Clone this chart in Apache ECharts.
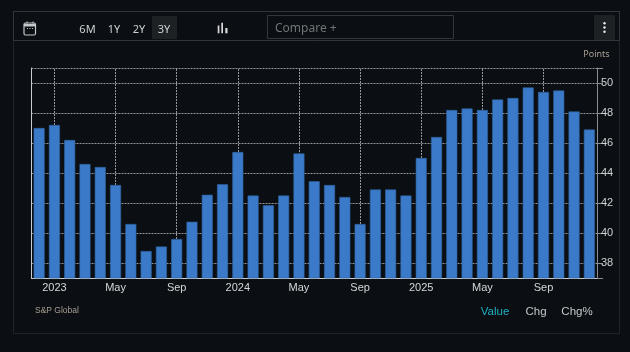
<!DOCTYPE html>
<html><head><meta charset="utf-8">
<style>html,body{margin:0;padding:0;background:#0b0f13}#c{width:630px;height:352px}</style>
<script src="https://cdn.jsdelivr.net/npm/echarts@6/dist/echarts.min.js"></script>
</head><body><div id="c"></div>
<script>
const months=["Dec 2022","Jan 2023","Feb 2023","Mar 2023","Apr 2023","May 2023","Jun 2023","Jul 2023","Aug 2023","Sep 2023","Oct 2023","Nov 2023","Dec 2023",
"Jan 2024","Feb 2024","Mar 2024","Apr 2024","May 2024","Jun 2024","Jul 2024","Aug 2024","Sep 2024","Oct 2024","Nov 2024","Dec 2024",
"Jan 2025","Feb 2025","Mar 2025","Apr 2025","May 2025","Jun 2025","Jul 2025","Aug 2025","Sep 2025","Oct 2025","Nov 2025","Dec 2025"];
const values=[47.0,47.2,46.2,44.6,44.4,43.2,40.6,38.8,39.1,39.6,40.75,42.55,43.25,45.4,42.5,41.85,42.5,45.3,43.45,43.2,42.4,40.6,42.9,42.9,42.5,45.0,46.4,48.2,48.3,48.2,48.9,49.0,49.7,49.4,49.5,48.1,46.9];
const xTicks={"Jan 2023":"2023","May 2023":"May","Sep 2023":"Sep","Jan 2024":"2024","May 2024":"May","Sep 2024":"Sep","Jan 2025":"2025","May 2025":"May","Sep 2025":"Sep"};
const yLabels=[38,40,42,44,46,48,50];
const yLines=[37,38,40,42,44,46,48,50,51];
const yMin=37,yMax=51;
const ranges=["6M","1Y","2Y","3Y"];
const rangeX=[87.5,114,139,164];
const metrics=["Value","Chg","Chg%"];
const metricX=[495,536,577];
const sans='"Noto Sans",sans-serif', ar='"Liberation Sans",Arial,sans-serif';
const chart=echarts.init(document.getElementById('c'),null,{renderer:'canvas'});
const rect=(x,y,w,h,style)=>({type:'rect',shape:{x,y,width:w,height:h},style,silent:true});
const txt=(x,y,text,fill,size,font,align='center')=>({type:'text',x,y,style:{text,fill,fontSize:size,fontFamily:font,align,verticalAlign:'middle'},silent:true,z:10});
const chrome=[
 rect(13.5,11.5,606,322,{fill:'none',stroke:'#1f2428',lineWidth:1}),
 rect(13.5,11.5,606,29,{fill:'none',stroke:'#32373b',lineWidth:1}),
 rect(152,16,25,23,{fill:'#1d2124'}),
 rect(594,15,21,25,{fill:'#1d2124'}),
 rect(267.5,15.5,186,23,{fill:'none',stroke:'#32373b',lineWidth:1}),
 {type:'rect',shape:{x:24,y:23,width:11.5,height:12,r:1.5},style:{fill:'none',stroke:'#c4c7c9',lineWidth:1.2},silent:true},
 rect(24,24,12,2.5,{fill:'#c4c7c9'}),
 rect(26.5,21.5,1,2,{fill:'#c4c7c9'}),rect(32.5,21.5,1,2,{fill:'#c4c7c9'}),
 rect(27,28,1,1,{fill:'#c4c7c9'}),rect(29.5,28,1,1,{fill:'#c4c7c9'}),rect(32,28,1,1,{fill:'#c4c7c9'}),
 rect(217.7,25.5,1.7,7.8,{fill:'#d6d8da'}),rect(221.3,22.7,1.7,10.6,{fill:'#d6d8da'}),rect(225.3,28,2.2,5.3,{fill:'#d6d8da'}),
 {type:'circle',shape:{cx:604.5,cy:23.3,r:1.2},style:{fill:'#eee'},silent:true,z:10},
 {type:'circle',shape:{cx:604.5,cy:27.5,r:1.2},style:{fill:'#eee'},silent:true,z:10},
 {type:'circle',shape:{cx:604.5,cy:31.8,r:1.2},style:{fill:'#eee'},silent:true,z:10},
 txt(275,28.5,'Compare +','#6f7477',12,sans,'left'),
 txt(596.5,54,'Points','#a89f92',9,sans,'center'),
 txt(35,311,'S&P Global','#a89f92',8.5,ar,'left')
];
ranges.forEach((r,i)=>chrome.push(txt(rangeX[i],29.5,r,'#cdd0d2',11,sans)));
metrics.forEach((m,i)=>chrome.push(txt(metricX[i],311.5,m,i===0?'#1fb0c4':'#c4c7c9',11.5,ar)));
chart.setOption({
 backgroundColor:'#0b0f13',animation:false,
 graphic:{elements:chrome},
 grid:{left:31.5,right:33,top:68,bottom:74,containLabel:false},
 xAxis:{type:'category',data:months,boundaryGap:true,
  axisLine:{show:true,lineStyle:{color:'#c8ccd0',width:1}},axisTick:{show:false},
  axisLabel:{color:'#d4d6d8',fontSize:11,fontFamily:ar,margin:4,hideOverlap:false,
   interval:(i,v)=>v in xTicks,formatter:v=>xTicks[v]||''},
  splitLine:{show:false}},
 yAxis:[
  {type:'value',position:'right',min:yMin,max:yMax,
   axisLine:{show:true,onZero:false,lineStyle:{color:'#8a8e91',width:1}},
   axisTick:{show:true,length:6,customValues:yLines,lineStyle:{color:'#8a8e91'}},
   axisLabel:{color:'#cfd2d4',fontSize:11,fontFamily:ar,margin:4,customValues:yLabels,padding:[0,0,3,0]},
   splitLine:{show:true,lineStyle:{color:'#94979a',type:[2,1],width:1}}},
  {type:'value',position:'left',min:yMin,max:yMax,
   axisLine:{show:true,onZero:false,lineStyle:{color:'#c8ccd0',width:1}},
   axisTick:{show:false},axisLabel:{show:false},splitLine:{show:false}}
 ],
 series:[
  {type:'line',data:[],z:1,silent:true,
   markLine:{silent:true,symbol:'none',z:1,label:{show:false},animation:false,
    lineStyle:{color:'#94979a',type:[2,1],width:1},
    data:Object.keys(xTicks).map(k=>({xAxis:k}))}},
  {type:'bar',data:values,barWidth:11,z:3,silent:true,
   itemStyle:{color:'#3b7ac9',borderColor:'#2f639f',borderWidth:0.6}}
 ]
});
</script></body></html>
